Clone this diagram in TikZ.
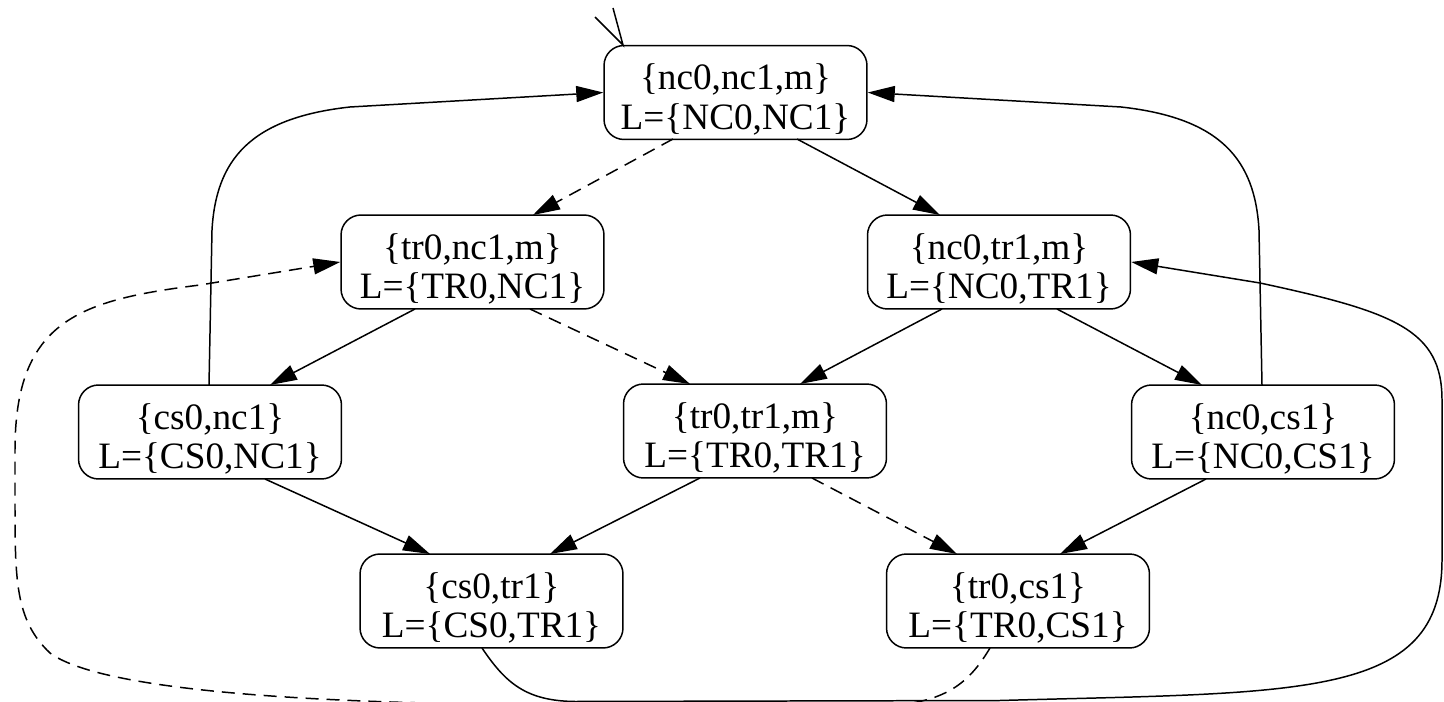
\documentclass[tikz,border=0pt]{standalone}
\usepackage{fontspec}
\setmainfont{Liberation Serif}
\usetikzlibrary{arrows.meta,calc}
\newcommand\stnode[4]{\node[st,label={[lbl]center:{#3\\#4}}] (#1) at (#2) {};}
\begin{document}
\begin{tikzpicture}[x=0.02cm,y=-0.02cm,
  st/.style={draw, line width=0.85pt, rounded corners=0.4cm, minimum width=5.26cm, minimum height=1.88cm, inner sep=0pt},
  lbl/.style={align=center, font=\fontsize{21.2pt}{22.4pt}\selectfont, inner sep=0pt, yshift=-0.14cm},
  edge/.style={line width=0.85pt, -{Triangle[length=0.54cm,width=0.32cm]}},
  dsh/.style={dash pattern=on 0.26cm off 0.16cm}]
\useasboundingbox (0,0) rectangle (1444,702);
\clip (0,0) rectangle (1444,702);

\stnode{n0}{735.5,92.5}{\{nc0,nc1,m\}}{L=\{NC0,NC1\}}
\stnode{n1}{472.5,262}{\{tr0,nc1,m\}}{L=\{TR0,NC1\}}
\stnode{n2}{999,262}{\{nc0,tr1,m\}}{L=\{NC0,TR1\}}
\stnode{n3}{210,432}{\{cs0,nc1\}}{L=\{CS0,NC1\}}
\stnode{n4}{755,431}{\{tr0,tr1,m\}}{L=\{TR0,TR1\}}
\stnode{n5}{1263,432}{\{nc0,cs1\}}{L=\{NC0,CS1\}}
\stnode{n6}{491.5,601}{\{cs0,tr1\}}{L=\{CS0,TR1\}}
\stnode{n7}{1018,601}{\{tr0,cs1\}}{L=\{TR0,CS1\}}

% initial marker
\coordinate (iA) at (613,8);
\coordinate (iB) at (595,17);
\coordinate (iT) at ($(n0)+(-112.5,-47.5)$);
\draw[line width=0.85pt] (iA) -- (iT) -- (iB);

% straight edges
\draw[edge,dsh] ($(n0)+(-62.5,46.5)$) -- ($(n1)+(60.5,-47)$);
\draw[edge] ($(n0)+(61.5,46.5)$) -- ($(n2)+(-59,-47)$);
\draw[edge] ($(n1)+(-57.5,47)$) -- ($(n3)+(60,-47)$);
\draw[edge,dsh] ($(n1)+(57.5,47)$) -- ($(n4)+(-65,-47)$);
\draw[edge] ($(n2)+(-57,47)$) -- ($(n4)+(45,-47)$);
\draw[edge] ($(n2)+(58,47)$) -- ($(n5)+(-61,-47)$);
\draw[edge] ($(n3)+(55,47)$) -- ($(n6)+(-61.5,-47)$);
\draw[edge] ($(n4)+(-55,47)$) -- ($(n6)+(58.5,-47)$);
\draw[edge,dsh] ($(n4)+(57,47)$) -- ($(n7)+(-61,-47)$);
\draw[edge] ($(n5)+(-57,47)$) -- ($(n7)+(42,-47)$);

% back edges to the initial state
\draw[edge] ($(n3)+(-1,-47)$) -- (212,230) .. controls (216,160) and (250,118) .. (350,107) -- (n0.west);
\draw[edge] ($(n5)+(-1,-47)$) -- (1259,230) .. controls (1255,160) and (1221,118) .. (1121,107) -- (n0.east);

% long loops
\draw[edge] ($(n6)+(-9.5,47)$) .. controls (505,682) and (525,701) .. (575,701.5) -- (1000,700.5)
  .. controls (1300,692) and (1442,700) .. (1442,560) -- (1442,400)
  .. controls (1442,330) and (1395,312) .. (1260,283) -- (n2.east);
\draw[edge,dsh] ($(n7)+(-28,47)$) .. controls (972,678) and (952,698) .. (905,704) -- (470,704)
  .. controls (300,701) and (100,690) .. (50,653)
  .. controls (15,620) and (15,580) .. (15,500) -- (15,450)
  .. controls (15,320) and (80,300) .. (200,285) -- (n1.west);
\end{tikzpicture}
\end{document}
